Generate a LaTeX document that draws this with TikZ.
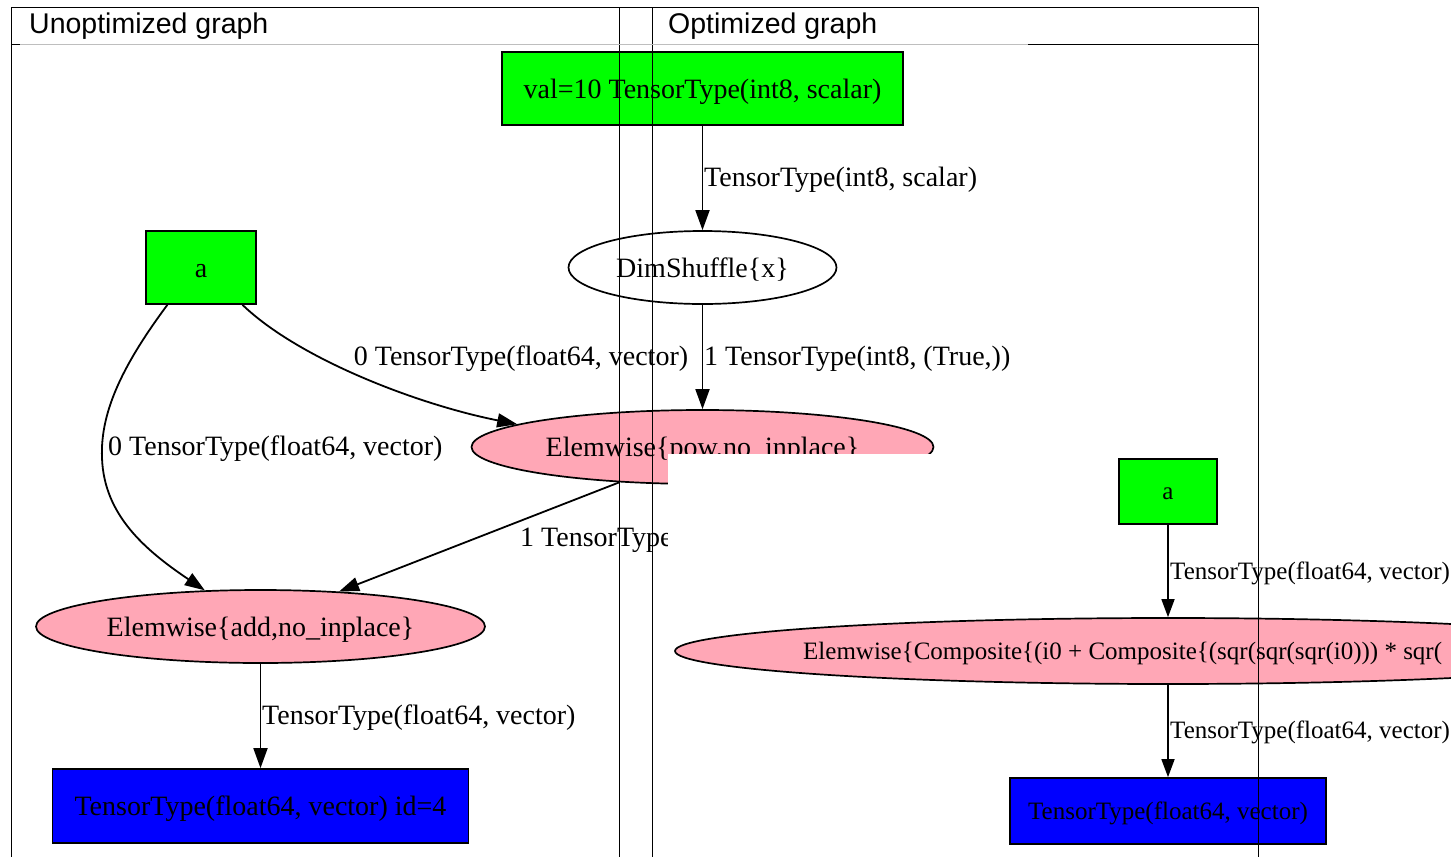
\documentclass[tikz,border=0pt]{standalone}
\usepackage{fontspec}
\setmainfont{Liberation Serif}
\newfontfamily\hdfont{Liberation Sans}
\usetikzlibrary{shapes.geometric,arrows.meta}
\definecolor{gvgreen}{RGB}{0,255,0}
\definecolor{gvpink}{RGB}{255,167,182}
\definecolor{gvblue}{RGB}{0,0,255}
\definecolor{hdgray}{RGB}{190,190,190}
\begin{document}
\begin{tikzpicture}[x=1pt,y=-1pt,
  gvfont/.style={font=\fontsize{28}{30}\selectfont, text height=22pt, text depth=3pt},
  gvsmall/.style={font=\fontsize{25}{27}\selectfont, text height=19.6pt, text depth=2.7pt},
  hdstyle/.style={font=\hdfont\fontsize{28.5}{30}\selectfont, inner sep=0pt, anchor=west},
  boxnode/.style={draw=black, line width=1.7pt, rectangle, inner sep=0pt},
  ellnode/.style={draw=black, line width=1.7pt, ellipse, inner sep=0pt, fill=gvpink},
  edge/.style={line width=1.8pt, -{Triangle[length=20pt,width=14pt]}},
  edgesmall/.style={line width=1.6pt, -{Triangle[length=18pt,width=13pt]}},
  elabel/.style={gvfont, inner sep=0pt, anchor=west},
  elabelsmall/.style={gvsmall, inner sep=0pt, anchor=west},
  frameline/.style={line width=1pt, black},
]
\useasboundingbox (0,0) rectangle (1451,857);
\fill[white] (0,0) rectangle (1451,857);

% ---------- unoptimized graph ----------
\node[boxnode, fill=gvgreen, minimum width=401pt, minimum height=73pt, gvfont] (val) at (702.5,88.5) {val=10 TensorType(int8, scalar)};
\node[ellnode, fill=white, minimum width=268pt, minimum height=73pt, gvfont] (dim) at (702.5,267.5) {DimShuffle\{x\}};
\node[ellnode, minimum width=462pt, minimum height=74pt, gvfont] (pow) at (702.5,447) {Elemwise\{pow,no\_inplace\}};
\node[boxnode, fill=gvgreen, minimum width=110pt, minimum height=73pt, gvfont] (a1) at (201,267.5) {a};
\node[ellnode, minimum width=449pt, minimum height=73pt, gvfont] (add) at (260.5,626.5) {Elemwise\{add,no\_inplace\}};
\node[boxnode, fill=gvblue, minimum width=416pt, minimum height=74pt, gvfont] (out1) at (260.5,806) {TensorType(float64, vector) id=4};

\draw[edge] (val) -- (dim);
\draw[edge] (dim) -- (pow);
\draw[edge] (a1.318) .. controls (300,360) and (420,405) .. (pow.173);
\draw[edge] (a1.228) .. controls (125,362) and (100,410) .. (102,458) .. controls (104,515) and (145,550) .. (add.147);
\draw[edge] (pow.203) -- (add.24);
\draw[edge] (add) -- (out1);

\node[elabel] (l1) at (704,177) {TensorType(int8, scalar)};
\node[elabel] (l2) at (704,356) {1 TensorType(int8, (True,))};
\node[gvfont, inner sep=0pt] (l3) at (521,356) {0 TensorType(float64, vector)};
\node[elabel] (l4) at (108,446) {0 TensorType(float64, vector)};
\node[elabel] (l5) at (520,537) {1 TensorType(float64, vector)};
\node[elabel] (l6) at (262,715) {TensorType(float64, vector)};

% ---------- optimized graph (overlapping image) ----------
\fill[white] (668,454) rectangle (1460,860);
\begin{scope}
\clip (0,0) rectangle (1451,857);
\node[boxnode, fill=gvgreen, minimum width=98pt, minimum height=65pt, gvsmall] (a2) at (1168,491.5) {a};
\node[ellnode, minimum width=986pt, minimum height=66pt] (comp) at (1168,651) {};
\node[gvsmall, inner sep=0pt, anchor=west] (comptext) at (803,651) {Elemwise\{Composite\{(i0 + Composite\{(sqr(sqr(sqr(i0))) * sqr(};
\node[boxnode, fill=gvblue, minimum width=316pt, minimum height=66pt, gvsmall] (out2) at (1168,811) {TensorType(float64, vector)};
\draw[edgesmall] (a2) -- (comp);
\draw[edgesmall] (comp) -- (out2);
\node[elabelsmall] (l7) at (1170,571) {TensorType(float64, vector)};
\node[elabelsmall] (l8) at (1170,730) {TensorType(float64, vector)};
\end{scope}

% ---------- table frame ----------
\draw[frameline] (11,7) -- (1258,7);
\draw[frameline] (11,7) -- (11,857);
\draw[frameline] (619,7) -- (619,857);
\draw[frameline] (652,7) -- (652,857);
\draw[frameline] (1258,7) -- (1258,857);
\draw[hdgray, line width=1pt] (11,44) -- (1028,44);
\draw[frameline] (1028,44) -- (1258,44);
\draw[frameline] (11,44) -- (20,44);
\node[hdstyle] (h1) at (29,26) {Unoptimized graph};
\node[hdstyle] (h2) at (668,26) {Optimized graph};
\end{tikzpicture}
\end{document}
